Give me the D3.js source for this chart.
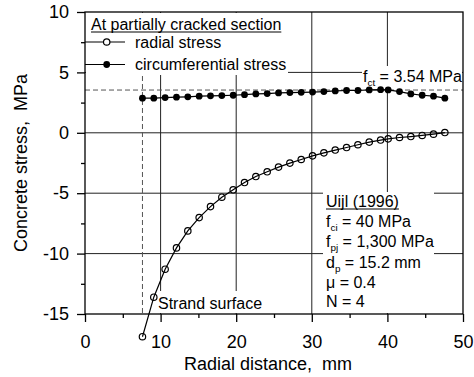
<!DOCTYPE html>
<html>
<head>
<meta charset="utf-8">
<script src="https://cdn.jsdelivr.net/npm/d3@7"></script>
<style>
  body { margin: 0; background: #fff; }
  svg { display: block; font-family: Arial, "Liberation Sans", sans-serif; }
</style>
</head>
<body>
<svg id="vis" width="474" height="377"></svg>
<script>
// values
const distance = [7.6, 9.1, 10.6, 12.1, 13.6, 15.1, 16.6, 18.1, 19.6, 21.1, 22.6, 24.1, 25.6, 27.1,
  28.6, 30.1, 31.6, 33.1, 34.6, 36.1, 37.6, 39.1, 40.1, 41.6, 43.1, 44.6, 46.1, 47.6];
const radialStress = [-16.88, -13.61, -11.29, -9.53, -8.12, -7.02, -6.11, -5.33, -4.72, -4.12,
  -3.62, -3.23, -2.84, -2.51, -2.21, -1.91, -1.66, -1.43, -1.22, -0.99, -0.77, -0.60, -0.50,
  -0.39, -0.31, -0.22, -0.11, 0.02];
const circStress = [2.87, 2.87, 2.92, 2.95, 2.98, 3.03, 3.06, 3.08, 3.11, 3.16, 3.22, 3.25, 3.30,
  3.33, 3.35, 3.37, 3.41, 3.47, 3.50, 3.50, 3.55, 3.57, 3.55, 3.41, 3.22, 3.11, 3.03, 2.87];
const xTicks = [0, 10, 20, 30, 40, 50];
const xMinor = [5, 15, 25, 35, 45];
const yTicks = [-15, -10, -5, 0, 5, 10];
const yMinor = [-12.5, -7.5, -2.5, 2.5, 7.5];
const xGrid = [10, 20, 30, 40];
const yGrid = [-10, -5, 0, 5];
const fct = 3.54;
const strandRadius = 7.6;

const svg = d3.select("svg#vis");
const x = d3.scaleLinear().domain([0, 50]).range([85, 463]);
const y = d3.scaleLinear().domain([-15, 10]).range([314, 12]);

const g = {
  grid: svg.append("g").attr("id", "grid"),
  dashes: svg.append("g").attr("id", "dashes"),
  boxes: svg.append("g").attr("id", "boxes"),
  series: svg.append("g").attr("id", "series"),
  axes: svg.append("g").attr("id", "axes"),
  labels: svg.append("g").attr("id", "labels")
};

// grid
g.grid.selectAll("line.v").data(xGrid).enter().append("line")
  .attr("x1", d => x(d)).attr("x2", d => x(d))
  .attr("y1", y(10)).attr("y2", y(-15))
  .attr("stroke", "#222").attr("stroke-width", 1);
g.grid.selectAll("line.h").data(yGrid).enter().append("line")
  .attr("x1", x(0)).attr("x2", x(50))
  .attr("y1", d => y(d)).attr("y2", d => y(d))
  .attr("stroke", "#222").attr("stroke-width", 1);

// dashed reference lines
g.dashes.append("line")
  .attr("x1", x(0)).attr("x2", x(50)).attr("y1", y(fct)).attr("y2", y(fct))
  .attr("stroke", "#555").attr("stroke-dasharray", "5,3").attr("stroke-width", 1);
g.dashes.append("line")
  .attr("x1", x(strandRadius)).attr("x2", x(strandRadius)).attr("y1", y(10)).attr("y2", y(-15))
  .attr("stroke", "#555").attr("stroke-dasharray", "5,3").attr("stroke-width", 1);

// white boxes behind text
function box(x0, y0, x1, y1) {
  g.boxes.append("rect").attr("x", x0).attr("y", y0)
    .attr("width", x1 - x0).attr("height", y1 - y0).attr("fill", "#fff");
}
box(86, 13, 288, 75);
box(362, 66, 462, 88);
box(323, 192, 434, 313);
box(156, 291, 266, 313);

// series
const line = d3.line().x(d => x(d[0])).y(d => y(d[1]));
const radial = distance.map((d, i) => [d, radialStress[i]]);
const circ = distance.map((d, i) => [d, circStress[i]]);

g.series.append("path").datum(radial).attr("d", line)
  .attr("fill", "none").attr("stroke", "#000").attr("stroke-width", 1.2);
g.series.append("path").datum(circ).attr("d", line)
  .attr("fill", "none").attr("stroke", "#000").attr("stroke-width", 1.2);
g.series.selectAll("circle.radial").data(radial).enter().append("circle")
  .attr("cx", d => x(d[0])).attr("cy", d => y(d[1])).attr("r", 3.2)
  .attr("fill", "none").attr("stroke", "#000").attr("stroke-width", 1.2);
g.series.selectAll("circle.circ").data(circ).enter().append("circle")
  .attr("cx", d => x(d[0])).attr("cy", d => y(d[1])).attr("r", 3.4)
  .attr("fill", "#000");

// axes (plain hyphen for negatives, like the original)
const fmt = d => String(d);
const xAxis = g.axes.append("g").attr("transform", "translate(0," + y(-15) + ")")
  .call(d3.axisBottom(x).tickValues(xTicks).tickSize(8).tickSizeOuter(0).tickFormat(fmt));
const xAxisMinor = g.axes.append("g").attr("transform", "translate(0," + y(-15) + ")")
  .call(d3.axisBottom(x).tickValues(xMinor).tickSize(4).tickSizeOuter(0).tickFormat(""));
const yAxis = g.axes.append("g").attr("transform", "translate(" + x(0) + ",0)")
  .call(d3.axisLeft(y).tickValues(yTicks).tickSize(8).tickSizeOuter(0).tickPadding(8).tickFormat(fmt));
const yAxisMinor = g.axes.append("g").attr("transform", "translate(" + x(0) + ",0)")
  .call(d3.axisLeft(y).tickValues(yMinor).tickSize(4).tickSizeOuter(0).tickFormat(""));

[xAxis, xAxisMinor, yAxis, yAxisMinor].forEach(a => {
  a.select(".domain").remove();
  a.selectAll(".tick line").attr("stroke", "#000").attr("stroke-width", 1.3);
  a.selectAll(".tick text").attr("font-size", 18).attr("fill", "#000")
    .attr("font-family", "Arial, 'Liberation Sans', sans-serif");
});
xAxis.selectAll(".tick text").attr("dy", null).attr("y", 34);

// frame
g.axes.append("rect").attr("x", x(0)).attr("y", y(10))
  .attr("width", x(50) - x(0)).attr("height", y(-15) - y(10))
  .attr("fill", "none").attr("stroke", "#000").attr("stroke-width", 1.3);

// axis titles
g.labels.append("text").attr("x", 268).attr("y", 370).attr("text-anchor", "middle")
  .attr("font-size", 18).text("Radial distance,\u00a0 mm");
g.labels.append("text").attr("transform", "translate(27,163) rotate(-90)")
  .attr("text-anchor", "middle").attr("font-size", 18).text("Concrete stress,\u00a0 MPa");

// text with subscripts: parts = [[text, isSub], ...]
function subText(px, py, parts, size) {
  const t = g.labels.append("text").attr("x", px).attr("y", py).attr("font-size", size);
  let shifted = false;
  parts.forEach(p => {
    const s = t.append("tspan").text(p[0]);
    if (p[1] && !shifted) { s.attr("dy", 4).attr("font-size", size * 0.62); shifted = true; }
    else if (p[1]) { s.attr("font-size", size * 0.62); }
    else if (shifted) { s.attr("dy", -4); shifted = false; }
  });
  return t;
}
function underline(t) {
  const len = t.node().getComputedTextLength();
  const tx = +t.attr("x"), ty = +t.attr("y");
  g.labels.append("line").attr("x1", tx).attr("x2", tx + len)
    .attr("y1", ty + 2).attr("y2", ty + 2).attr("stroke", "#000").attr("stroke-width", 1);
}

// legend
underline(g.labels.append("text").attr("x", 91).attr("y", 30).attr("font-size", 16)
  .text("At partially cracked section"));
const legendY = [42, 64.5];
g.labels.selectAll("line.leg").data(legendY).enter().append("line")
  .attr("x1", x(0)).attr("x2", 125).attr("y1", d => d).attr("y2", d => d)
  .attr("stroke", "#000").attr("stroke-width", 1.2);
g.labels.append("circle").attr("cx", 106.7).attr("cy", legendY[0]).attr("r", 3.2)
  .attr("fill", "#fff").attr("stroke", "#000").attr("stroke-width", 1.2);
g.labels.append("circle").attr("cx", 106.7).attr("cy", legendY[1]).attr("r", 3.4).attr("fill", "#000");
g.labels.append("text").attr("x", 135).attr("y", legendY[0] + 5.7).attr("font-size", 16).text("radial stress");
g.labels.append("text").attr("x", 135).attr("y", legendY[1] + 5.7).attr("font-size", 16).text("circumferential stress");

// f_ct label
subText(363, 82, [["f", false], ["ct", true], [" = 3.54 MPa", false]], 16);

// strand surface
g.labels.append("text").attr("x", 158).attr("y", 309).attr("font-size", 16).text("Strand surface");

// parameters box
underline(g.labels.append("text").attr("x", 326).attr("y", 207).attr("font-size", 16).text("Uijl (1996)"));
subText(326, 226.5, [["f", false], ["ci", true], [" = 40 MPa", false]], 16);
subText(326, 247, [["f", false], ["pj", true], [" = 1,300 MPa", false]], 16);
subText(326, 267.5, [["d", false], ["p", true], [" = 15.2 mm", false]], 16);
g.labels.append("text").attr("x", 326).attr("y", 288).attr("font-size", 16).text("\u03bc = 0.4");
g.labels.append("text").attr("x", 326).attr("y", 307).attr("font-size", 16).text("N = 4");
</script>
</body>
</html>
